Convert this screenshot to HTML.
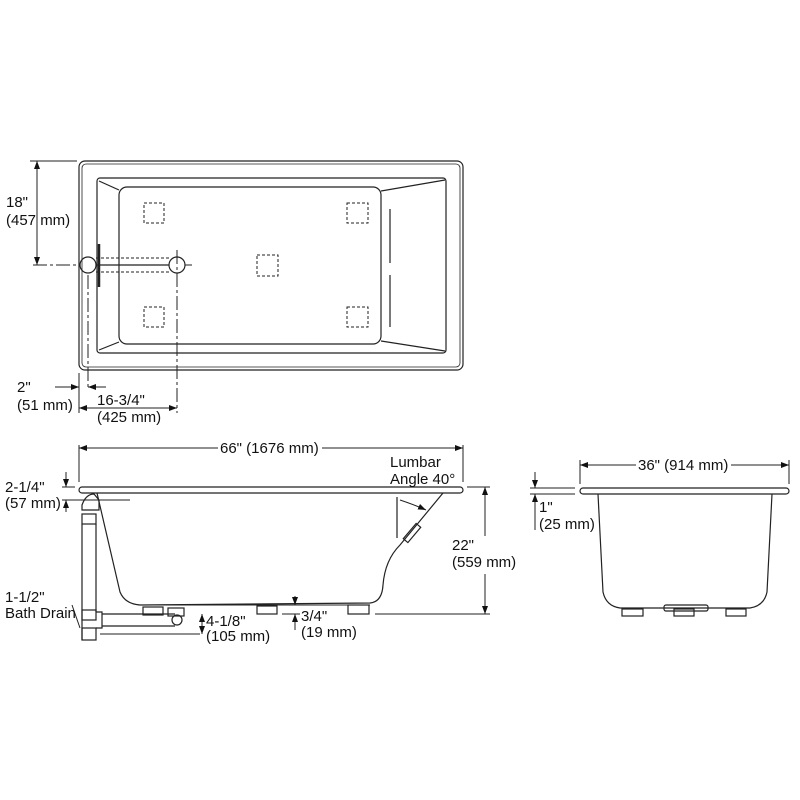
<!DOCTYPE html>
<html><head><style>
body{margin:0;background:#fff}
svg{display:block}
text{font-family:"Liberation Sans",Arial,sans-serif;font-size:15px;fill:#111}
</style></head><body>
<svg width="800" height="800" viewBox="0 0 800 800" xmlns="http://www.w3.org/2000/svg">
<defs>
<marker id="a" markerWidth="8" markerHeight="6" refX="8" refY="3" orient="auto-start-reverse" markerUnits="userSpaceOnUse"><path d="M0,0 L8,3 L0,6 z" fill="#111"/></marker>
</defs>
<g fill="none" stroke="#222" stroke-width="1.2">
<rect x="79" y="161" width="384" height="209" rx="6"/>
<rect x="82" y="164" width="378" height="203" rx="4" stroke-width="0.8"/>
<rect x="97" y="178" width="349" height="175" rx="3"/>
<rect x="119" y="187" width="262" height="157" rx="8"/>
<line x1="99" y1="181" x2="119" y2="190"/><line x1="99" y1="350" x2="119" y2="342"/>
<line x1="381" y1="191" x2="445" y2="180"/><line x1="381" y1="341" x2="445" y2="351"/>
<line x1="390" y1="209" x2="390" y2="263"/><line x1="390" y1="275" x2="390" y2="327"/>
<g stroke-dasharray="3,2" stroke-width="1">
<rect x="144" y="203" width="20" height="20"/><rect x="347" y="203" width="21" height="20"/>
<rect x="144" y="307" width="20" height="20"/><rect x="347" y="307" width="21" height="20"/>
<rect x="257" y="255" width="21" height="21"/>
<line x1="96" y1="258" x2="170" y2="258"/><line x1="96" y1="272" x2="170" y2="272"/>
</g>
<line x1="96" y1="265" x2="169" y2="265"/>
<circle cx="88" cy="265" r="8"/><circle cx="177" cy="265" r="8"/>
<line x1="99" y1="244" x2="99" y2="287" stroke-width="2.5"/>
<g stroke-dasharray="14,3,3,3" stroke-width="1">
<line x1="33" y1="265" x2="80" y2="265"/><line x1="185" y1="265" x2="192" y2="265"/>
<line x1="177" y1="250" x2="177" y2="413"/><line x1="88" y1="275" x2="88" y2="388"/>
</g>
<line x1="30" y1="161" x2="77" y2="161" stroke-width="1"/>
<line x1="37" y1="161" x2="37" y2="265" marker-start="url(#a)" marker-end="url(#a)" stroke-width="1"/>
<line x1="79" y1="373" x2="79" y2="413" stroke-width="1"/>
<line x1="55" y1="387" x2="79" y2="387" marker-end="url(#a)" stroke-width="1"/>
<line x1="106" y1="387" x2="88" y2="387" marker-end="url(#a)" stroke-width="1"/>
<line x1="79" y1="408" x2="177" y2="408" marker-start="url(#a)" marker-end="url(#a)" stroke-width="1"/>
<line x1="79" y1="445" x2="79" y2="482" stroke-width="1"/><line x1="463" y1="445" x2="463" y2="482" stroke-width="1"/>
<line x1="79" y1="448" x2="218" y2="448" marker-start="url(#a)" stroke-width="1"/>
<line x1="322" y1="448" x2="463" y2="448" marker-end="url(#a)" stroke-width="1"/>
<rect x="79" y="487" width="384" height="6" rx="3"/>
<path d="M97,493 L120,592 Q125,604 140,605 L370,603 Q382,602 383,585 Q385,560 400,545 L443,493"/>
<line x1="138" y1="605" x2="370" y2="605" stroke-width="1"/>
<rect x="143" y="607" width="20" height="8"/><rect x="257" y="606" width="20" height="8"/><rect x="348" y="605" width="21" height="9"/>
<line x1="397" y1="497" x2="397" y2="538"/>
<path d="M400,500 Q415,505 426,510" marker-end="url(#a)" stroke-width="1"/>
<rect x="402" y="530" width="20" height="6" transform="rotate(-50 412 533)"/>
<line x1="467" y1="487" x2="490" y2="487" stroke-width="1"/><line x1="375" y1="614" x2="490" y2="614" stroke-width="1"/>
<line x1="485" y1="487" x2="485" y2="536" marker-start="url(#a)" stroke-width="1"/>
<line x1="485" y1="574" x2="485" y2="614" marker-end="url(#a)" stroke-width="1"/>
<line x1="62" y1="487" x2="75" y2="487" stroke-width="1"/><line x1="62" y1="500" x2="130" y2="500" stroke-width="1"/>
<line x1="66" y1="472" x2="66" y2="487" marker-end="url(#a)" stroke-width="1"/>
<line x1="66" y1="512" x2="66" y2="500" marker-end="url(#a)" stroke-width="1"/>
<path d="M82,505 Q86,494 94,494 L99,500 L99,510 L82,510 z"/>
<rect x="82" y="514" width="14" height="10"/>
<line x1="82" y1="524" x2="82" y2="640"/><line x1="96" y1="524" x2="96" y2="612"/>
<rect x="82" y="610" width="14" height="10"/>
<rect x="82" y="628" width="14" height="12"/>
<path d="M96,612 L102,612 L102,628 L96,628"/>
<line x1="102" y1="614" x2="175" y2="614"/><line x1="102" y1="626" x2="175" y2="626"/>
<rect x="168" y="608" width="16" height="8"/><circle cx="177" cy="620" r="5"/>
<line x1="100" y1="634" x2="200" y2="634" stroke-width="1"/>
<line x1="202" y1="614" x2="202" y2="634" marker-start="url(#a)" marker-end="url(#a)" stroke-width="1"/>
<line x1="282" y1="614" x2="300" y2="614" stroke-width="1"/>
<line x1="295" y1="596" x2="295" y2="605" marker-end="url(#a)" stroke-width="1"/>
<line x1="295" y1="630" x2="295" y2="614" marker-end="url(#a)" stroke-width="1"/>
<line x1="72" y1="605" x2="80" y2="628" stroke-width="1"/>
<line x1="580" y1="460" x2="580" y2="484" stroke-width="1"/><line x1="789" y1="460" x2="789" y2="484" stroke-width="1"/>
<line x1="580" y1="465" x2="636" y2="465" marker-start="url(#a)" stroke-width="1"/>
<line x1="731" y1="465" x2="789" y2="465" marker-end="url(#a)" stroke-width="1"/>
<rect x="580" y="488" width="209" height="6" rx="3"/>
<path d="M598,494 L603,592 Q606,606 620,608 L750,608 Q764,606 767,592 L772,494"/>
<rect x="622" y="609" width="21" height="7"/><rect x="674" y="609" width="20" height="7"/><rect x="726" y="609" width="20" height="7"/>
<rect x="664" y="605" width="44" height="6" rx="2"/>
<line x1="530" y1="488" x2="575" y2="488" stroke-width="1"/><line x1="530" y1="494" x2="575" y2="494" stroke-width="1"/>
<line x1="535" y1="472" x2="535" y2="488" marker-end="url(#a)" stroke-width="1"/>
<line x1="535" y1="530" x2="535" y2="494" marker-end="url(#a)" stroke-width="1"/>
</g>
<text x="6" y="207">18"</text><text x="6" y="225">(457 mm)</text>
<text x="17" y="392">2"</text><text x="17" y="410">(51 mm)</text>
<text x="97" y="405">16-3/4"</text><text x="97" y="422">(425 mm)</text>
<text x="220" y="453">66" (1676 mm)</text>
<text x="390" y="467">Lumbar</text><text x="390" y="484">Angle 40°</text>
<text x="5" y="492">2-1/4"</text><text x="5" y="508">(57 mm)</text>
<text x="452" y="550">22"</text><text x="452" y="567">(559 mm)</text>
<text x="5" y="602">1-1/2"</text><text x="5" y="618">Bath Drain</text>
<text x="206" y="626">4-1/8"</text><text x="206" y="641">(105 mm)</text>
<text x="301" y="621">3/4"</text><text x="301" y="637">(19 mm)</text>
<text x="638" y="470">36" (914 mm)</text>
<text x="539" y="512">1"</text><text x="539" y="529">(25 mm)</text>
</svg>
</body></html>
